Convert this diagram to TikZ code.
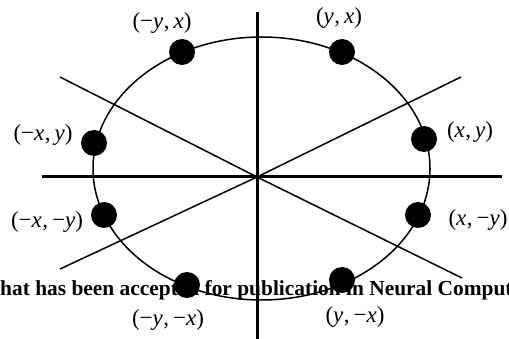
\documentclass[tikz,border=0pt]{standalone}
\usepackage{fontspec}
\setmainfont{Liberation Serif}
\begin{document}
\begin{tikzpicture}[x=1pt,y=-1pt,
  axis/.style={line width=3pt},
  thin line/.style={line width=1.5pt},
  dot/.style={circle,fill=black,minimum size=26pt,inner sep=0pt},
  lab/.style={font=\fontsize{23}{25}\selectfont,inner sep=0pt},
  stamp/.style={font=\fontsize{21.4}{24}\selectfont\bfseries,inner sep=0pt,anchor=base west}]
\useasboundingbox (0,0) rectangle (509,339);
% stamp text (under the drawing)
\node[stamp] (st) at (0,296) {\llap{w}hat has been accepted for publication in Neural Computation};
% axes
\coordinate (O) at (257,177);
\coordinate (vt) at (257,12);
\coordinate (vb) at (257,339);
\coordinate (hl) at (42,177);
\coordinate (hr) at (502,177);
\draw[axis] (vt) -- (vb);
\draw[axis] (hl) -- (hr);
% diagonals
\coordinate (a1) at (60,77);
\coordinate (a2) at (462,278);
\coordinate (b1) at (461,77);
\coordinate (b2) at (60,269);
\draw[thin line] (a1) -- (O) -- (a2);
\draw[thin line] (b1) -- (O) -- (b2);
% ellipse
\coordinate (E) at (261.5,168.5);
\draw[thin line] (E) ellipse [x radius=168.5, y radius=131.5];
% dots
\node[dot] (d1) at (182,52) {};
\node[dot] (d2) at (342,52) {};
\node[dot] (d3) at (424,139) {};
\node[dot] (d4) at (94,143) {};
\node[dot] (d5) at (104,215) {};
\node[dot] (d6) at (418,215) {};
\node[dot] (d7) at (187,285) {};
\node[dot] (d8) at (342,280) {};
% labels
\newcommand{\cm}{\kern0.5pt,\kern4pt}
\node[lab] (l1) at (162,23) {(−\textit{y}\cm\textit{x})};
\node[lab] (l2) at (339,18) {(\textit{y}\cm\textit{x})};
\node[lab] (l3) at (470,132) {(\textit{x}\cm\textit{y})};
\node[lab] (l4) at (43,135) {(−\textit{x}\cm\textit{y})};
\node[lab] (l5) at (47,222) {(−\textit{x}\cm−\textit{y})};
\node[lab] (l6) at (478,220) {(\textit{x}\cm−\textit{y})};
\node[lab] (l7) at (168,320) {(−\textit{y}\cm−\textit{x})};
\node[lab] (l8) at (355,317) {(\textit{y}\cm−\textit{x})};
\end{tikzpicture}
\end{document}
